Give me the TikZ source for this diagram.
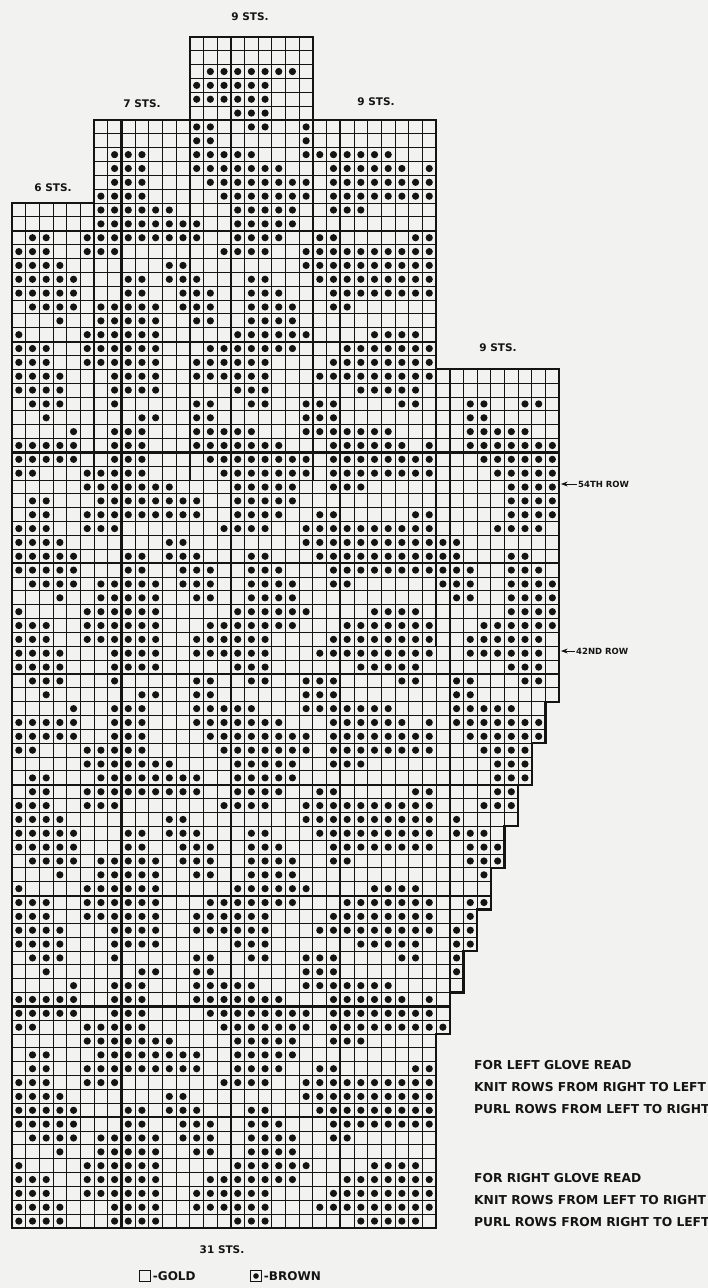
\documentclass[tikz,border=0pt]{standalone}
\usepackage{fontspec}
\newfontfamily\chartfont{DejaVu Sans}
\usetikzlibrary{arrows.meta}
\definecolor{chartink}{HTML}{141414}
\definecolor{chartpaper}{HTML}{F2F2F0}

\begin{document}
\begin{tikzpicture}[x=1pt,y=-1pt,>=Stealth,
    thingrid/.style={chartink,line width=.95pt},
    heavy/.style={chartink,line width=2.2pt,line cap=rect},
    stsdot/.style={fill=chartink},
    lbl/.style={font=\chartfont\bfseries\fontsize{10.5}{12}\selectfont,
      text=chartink,inner sep=1pt},
    note/.style={lbl,anchor=west,font=\chartfont\bfseries\fontsize{12.3}{14}\selectfont},
    rowmark/.style={lbl,anchor=west,font=\chartfont\bfseries\fontsize{8.5}{10}\selectfont},
    keybox/.style={draw=chartink,line width=1pt,minimum size=10.5pt,inner sep=0pt}]
  \fill[chartpaper] (0,0) rectangle (708,1288);
  \useasboundingbox (0,0) rectangle (708,1288);

  % chart in stitch units: one cell = 1 x 1, row r spans r-1..r
  \begin{scope}[shift={(12pt,-1228pt)},x=13.68pt,y=13.85pt]
    \draw[thingrid,step=1] (0,0) grid (31,74) (6,74) grid (31,80)
      (13,80) grid (22,86);
    \foreach \c in {31,...,39}{
      \pgfmathtruncatemacro\b{14+3*(\c-31)}
      \draw[thingrid,step=1] (\c,\b) grid (\c+1,62);
    }

    % brown stitches of the palm, repeated every 20 rows
    \foreach \k/\cols in {
        1/{0,1,2,3,7,8,9,10,16,17,18,25,26,27,28,29},
        2/{0,1,2,3,7,8,9,10,13,14,15,16,17,18,22,23,24,25,26,27,28,29,30},
        3/{0,1,2,5,6,7,8,9,10,13,14,15,16,17,18,23,24,25,26,27,28,29,30},
        4/{0,1,2,5,6,7,8,9,10,14,15,16,17,18,19,20,24,25,26,27,28,29,30},
        5/{0,5,6,7,8,9,10,16,17,18,19,20,21,26,27,28,29},
        6/{3,6,7,8,9,10,13,14,17,18,19,20},
        7/{1,2,3,4,6,7,8,9,10,12,13,14,17,18,19,20,23,24},
        8/{0,1,2,3,4,8,9,12,13,14,17,18,19,23,24,25,26,27,28,29,30},
        9/{0,1,2,3,4,8,9,11,12,13,17,18,22,23,24,25,26,27,28,29,30},
        10/{0,1,2,3,11,12,21,22,23,24,25,26,27,28,29,30},
        11/{0,1,2,5,6,7,15,16,17,18,21,22,23,24,25,26,27,28,29,30},
        12/{1,2,5,6,7,8,9,10,11,12,13,16,17,18,19,22,23,29,30},
        13/{1,2,6,7,8,9,10,11,12,13,16,17,18,19,20},
        14/{5,6,7,8,9,10,11,16,17,18,19,20,23,24,25},
        15/{0,1,5,6,7,8,9,15,16,17,18,19,20,21,23,24,25,26,27,28,29,30},
        16/{0,1,2,3,4,7,8,9,14,15,16,17,18,19,20,21,23,24,25,26,27,28,29,30},
        17/{0,1,2,3,4,7,8,9,13,14,15,16,17,18,19,23,24,25,26,27,28,30},
        18/{4,7,8,9,13,14,15,16,17,21,22,23,24,25,26,27},
        19/{2,9,10,13,14,21,22,23},
        20/{1,2,3,7,13,14,17,18,21,22,23,28,29}}
      \foreach \m in {0,...,4}
        \foreach \c in \cols {
          \pgfmathtruncatemacro\r{\k+20*\m}
          \pgfmathtruncatemacro\tp{\c<6 ? 72 : (\c<13 ? 78 : (\c<22 ? 84 : 78))}
          \ifnum\r>\tp\relax\else
            \fill[stsdot] (\c+.5,\r-.5) circle[radius=3.6pt];
          \fi
        }

    % thumb
    \foreach \r/\cols in {60/{33,34,37,38},59/{33,34},58/{33,34,35,36,37},
        57/{33,34,35,36,37,38,39},56/{34,35,36,37,38,39},55/{35,36,37,38,39},
        54/{36,37,38,39},53/{36,37,38,39},52/{36,37,38,39},51/{35,36,37,38},
        50/{31,32},49/{31,32,36,37},48/{31,32,33,36,37,38},
        47/{31,32,33,36,37,38,39},46/{32,33,36,37,38,39},45/{36,37,38,39},
        44/{34,35,36,37,38,39},43/{33,34,35,36,37,38},42/{33,34,35,36,37,38},
        41/{36,37,38},40/{32,33,37,38},39/{32,33},38/{32,33,34,35,36},
        37/{32,33,34,35,36,37,38},36/{33,34,35,36,37,38},35/{34,35,36,37},
        34/{35,36,37},33/{35,36,37},32/{35,36},31/{34,35,36},30/{32},
        29/{32,33,34},28/{33,34,35},27/{33,34,35},26/{34},24/{33,34},
        23/{33},22/{32,33},21/{32,33},20/{32},19/{32},15/{31}}
      \foreach \c in \cols
        \fill[stsdot] (\c+.5,\r-.5) circle[radius=3.6pt];

    % heavy rules
    \foreach \y/\xa/\xb in {8/0/31,16/0/32,24/0/35,32/0/38,40/0/40,
        48/0/40,56/0/40,64/0/31,72/0/31,80/6/31}
      \draw[heavy] (\xa,\y) -- (\xb,\y);
    \foreach \x/\ya/\yb in {8/0/80,16/0/86,24/0/80,32/17/62,
        6/54/74,13/54/80,22/54/80,31/42/62}
      \draw[heavy] (\x,\ya) -- (\x,\yb);
    \draw[heavy] (0,0) -| (31,14) -| (32,17) -| (33,20) -| (34,23)
      -| (35,26) -| (36,29) -| (37,32) -| (38,35) -| (39,38) -| (40,62)
      -| (31,80) -| (22,86) -| (13,80) -| (6,74) -| (0,0) -- cycle;
  \end{scope}

  % stitch counts
  \node[lbl] (stsmid) at (250,17) {9 STS.};
  \node[lbl] (stsindex) at (142,104) {7 STS.};
  \node[lbl] (stsring) at (376,102) {9 STS.};
  \node[lbl] (stslittle) at (53,188) {6 STS.};
  \node[lbl] (ststhumb) at (498,348) {9 STS.};
  \node[lbl] (stsbase) at (222,1250) {31 STS.};

  % row markers
  \node[rowmark] (row54) at (577,484) {54TH ROW};
  \coordinate (edge54) at (561,484);
  \draw[->,thick,chartink] (row54.west) -- (edge54);
  \node[rowmark] (row42) at (575,651) {42ND ROW};
  \coordinate (edge42) at (561,651);
  \draw[->,thick,chartink] (row42.west) -- (edge42);

  % reading notes
  \node[note] (leftglove) at (473,1065) {FOR LEFT GLOVE READ};
  \node[note] (leftknit) at (473,1087) {KNIT ROWS FROM RIGHT TO LEFT};
  \node[note] (leftpurl) at (473,1109) {PURL ROWS FROM LEFT TO RIGHT};
  \node[note] (rightglove) at (473,1178) {FOR RIGHT GLOVE READ};
  \node[note] (rightknit) at (473,1200) {KNIT ROWS FROM LEFT TO RIGHT};
  \node[note] (rightpurl) at (473,1222) {PURL ROWS FROM RIGHT TO LEFT};

  % key
  \node[keybox] (goldbox) at (145,1276) {};
  \node[lbl,anchor=west,font=\chartfont\bfseries\fontsize{12}{14}\selectfont]
    (goldkey) at ([xshift=1pt]goldbox.east) {-GOLD};
  \node[keybox] (brownbox) at (256,1276) {};
  \fill[chartink] (brownbox) circle[radius=2.8pt];
  \node[lbl,anchor=west,font=\chartfont\bfseries\fontsize{12}{14}\selectfont]
    (brownkey) at ([xshift=1pt]brownbox.east) {-BROWN};
\end{tikzpicture}
\end{document}
